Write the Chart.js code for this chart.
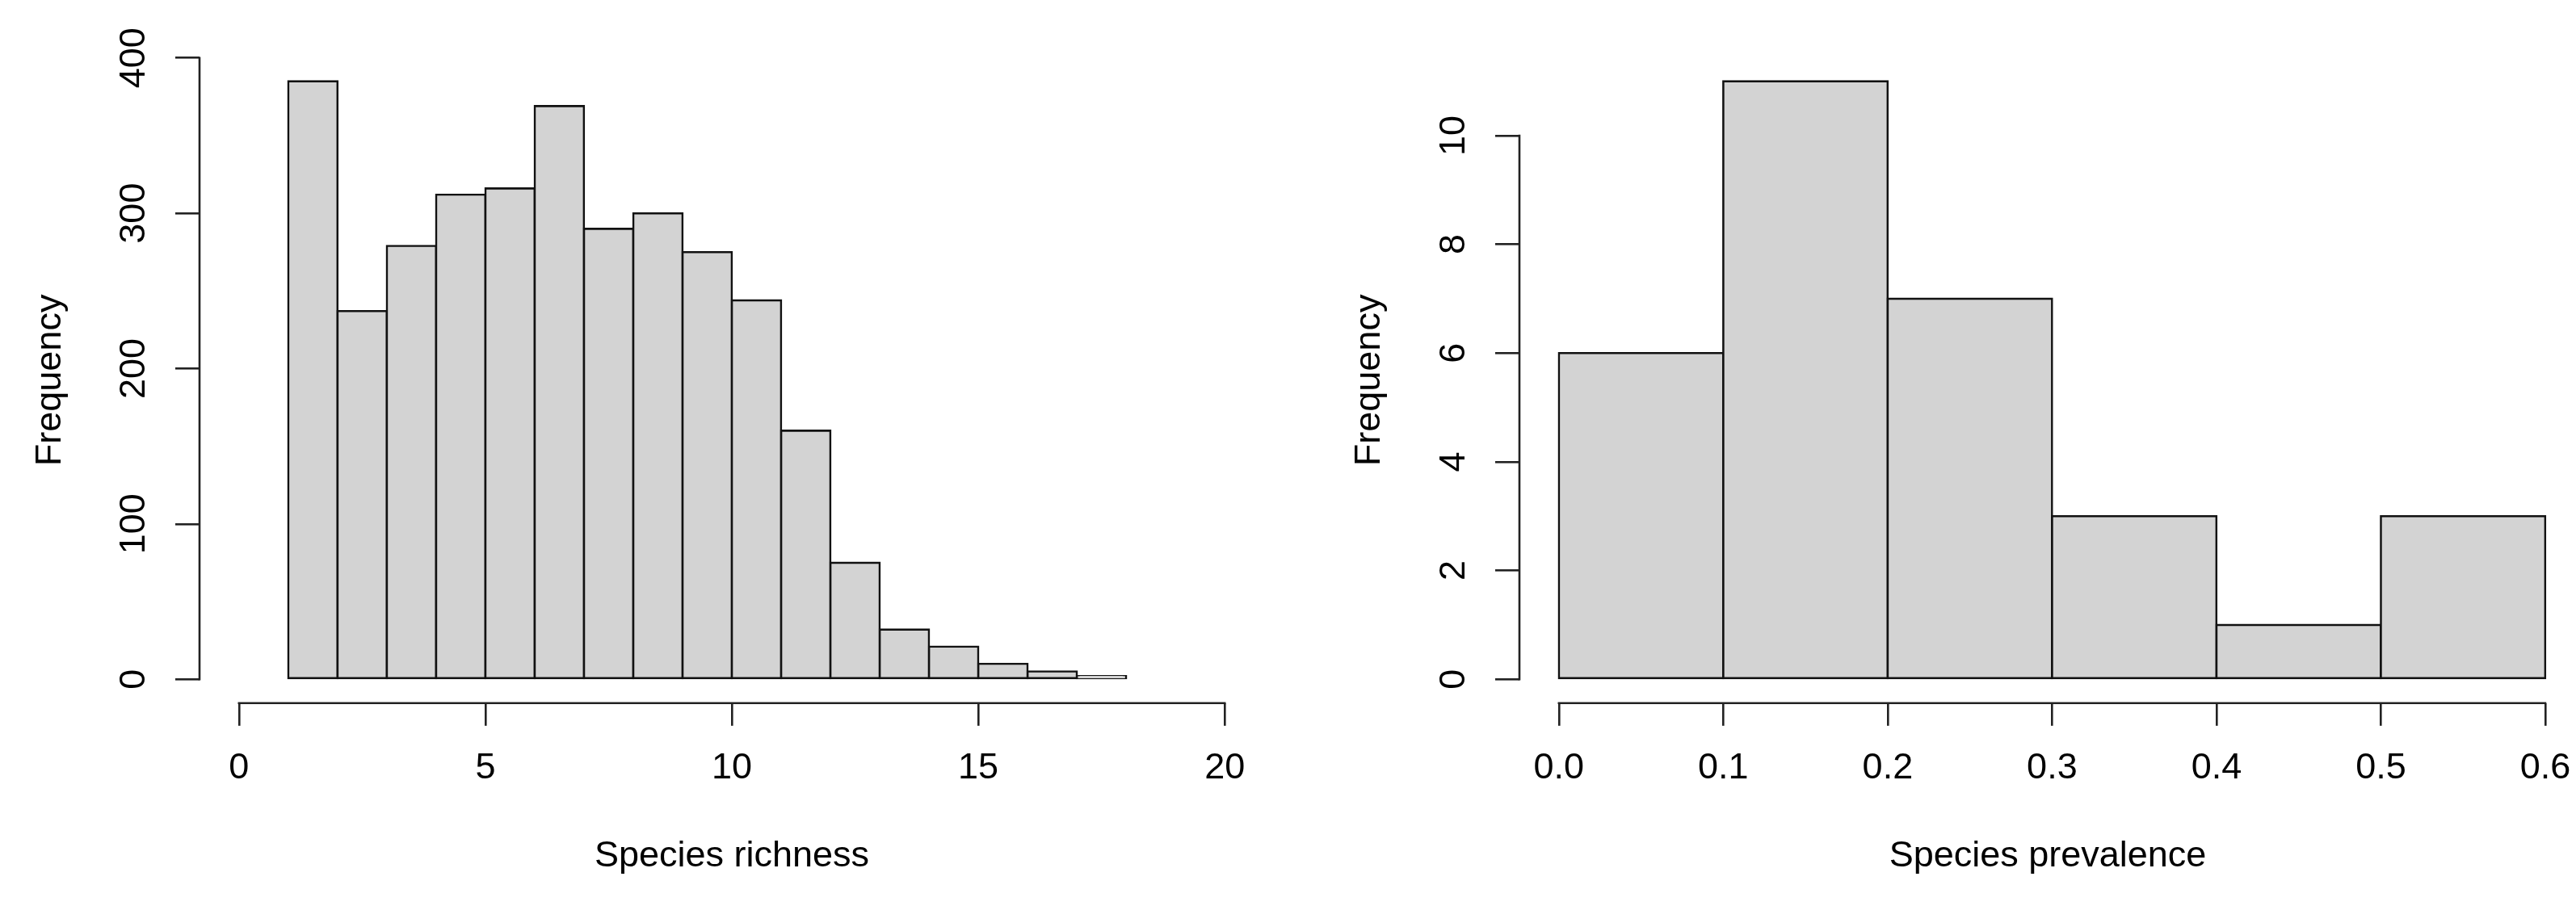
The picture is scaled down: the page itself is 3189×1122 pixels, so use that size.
<!DOCTYPE html>
<html>
<head>
<meta charset="utf-8">
<script src="https://cdn.jsdelivr.net/npm/chart.js@4.4.1/dist/chart.umd.min.js"></script>
<style>
  html, body { margin: 0; padding: 0; background: #fff; }
  #wrap { position: relative; width: 3189px; height: 1122px; overflow: hidden; }
  canvas { position: absolute; top: 0; }
  #left { left: 0; }
  #right { left: 1594px; }
</style>
</head>
<body>
<div id="wrap">
  <canvas id="left" width="1594" height="1122"></canvas>
  <canvas id="right" width="1595" height="1122"></canvas>
</div>
<script>
// species richness histogram
const richnessBreaks = [1, 2, 3, 4, 5, 6, 7, 8, 9, 10, 11, 12, 13, 14, 15, 16, 17, 18];
const richnessCounts = [385, 237, 279, 312, 316, 369, 290, 300, 275, 244, 160, 75, 32, 21, 10, 5, 2];
const richnessXTicks = [0, 5, 10, 15, 20];
const richnessXLabels = ['0', '5', '10', '15', '20'];
const richnessYTicks = [0, 100, 200, 300, 400];
const richnessYLabels = ['0', '100', '200', '300', '400'];

// species prevalence histogram
const prevalenceBreaks = [0, 0.1, 0.2, 0.3, 0.4, 0.5, 0.6];
const prevalenceCounts = [6, 11, 7, 3, 1, 3];
const prevalenceXTicks = [0, 0.1, 0.2, 0.3, 0.4, 0.5, 0.6];
const prevalenceXLabels = ['0.0', '0.1', '0.2', '0.3', '0.4', '0.5', '0.6'];
const prevalenceYTicks = [0, 2, 4, 6, 8, 10];
const prevalenceYLabels = ['0', '2', '4', '6', '8', '10'];

const FONT = '"Liberation Sans", Arial, sans-serif';
Chart.defaults.font.family = FONT;
Chart.defaults.color = '#000';

// R style axes: line only between first and last tick, rotated y labels
const rAxes = {
    id: 'rAxes',
    afterDraw(chart) {
        const {ctx, chartArea, scales: {x, y}} = chart;
        const xt = x.ticks, yt = y.ticks;
        ctx.save();
        ctx.strokeStyle = '#222';
        ctx.lineWidth = 2.6;
        ctx.beginPath();
        ctx.moveTo(x.getPixelForValue(xt[0].value) - 1.3, chartArea.bottom);
        ctx.lineTo(x.getPixelForValue(xt[xt.length - 1].value) + 1.3, chartArea.bottom);
        ctx.moveTo(chartArea.left, y.getPixelForValue(yt[0].value) + 1.3);
        ctx.lineTo(chartArea.left, y.getPixelForValue(yt[yt.length - 1].value) - 1.3);
        ctx.stroke();

        ctx.fillStyle = '#000';
        ctx.font = '45px ' + FONT;
        ctx.textAlign = 'center';
        ctx.textBaseline = 'middle';
        yt.forEach(t => {
            ctx.save();
            ctx.translate(chartArea.left - 80, y.getPixelForValue(t.value));
            ctx.rotate(-Math.PI / 2);
            ctx.fillText(t.label, 0, 0);
            ctx.restore();
        });
        ctx.restore();
    }
};

function histogram(canvasId, breaks, counts, xTicks, xLabels, yTicks, yLabels, xTitle, box) {
    const data = counts.map((c, i) => ({ x: (breaks[i] + breaks[i + 1]) / 2, y: c }));
    return new Chart(document.getElementById(canvasId), {
        type: 'bar',
        data: {
            datasets: [{
                data: data,
                backgroundColor: '#d3d3d3',
                borderColor: '#111',
                borderWidth: 2.6,
                inflateAmount: 1.3,
                borderSkipped: false,
                barPercentage: 1,
                categoryPercentage: 1
            }]
        },
        options: {
            responsive: false,
            animation: false,
            layout: { padding: box.padding },
            plugins: { legend: { display: false }, tooltip: { enabled: false } },
            scales: {
                x: {
                    type: 'linear',
                    min: box.xMin,
                    max: box.xMax,
                    bounds: 'data',
                    offset: false,
                    afterBuildTicks: s => { s.ticks = xTicks.map(v => ({ value: v })); },
                    grid: { drawOnChartArea: false, offset: false, tickLength: 28, lineWidth: 2.6, color: '#222' },
                    border: { display: false },
                    ticks: {
                        autoSkip: false, maxRotation: 0, minRotation: 0, padding: 0,
                        font: { size: 45, lineHeight: 2.36 },
                        callback: (v, i) => xLabels[i]
                    },
                    title: {
                        display: true, text: xTitle,
                        font: { size: 45, lineHeight: 1.2 },
                        padding: { top: 29, bottom: 0 }
                    }
                },
                y: {
                    type: 'linear',
                    min: box.yMin,
                    max: box.yMax,
                    bounds: 'data',
                    afterBuildTicks: s => { s.ticks = yTicks.map(v => ({ value: v })); },
                    grid: { drawOnChartArea: false, tickLength: 30, lineWidth: 2.6, color: '#222' },
                    border: { display: false },
                    ticks: { display: false, callback: (v, i) => yLabels[i] },
                    title: {
                        display: true, text: 'Frequency',
                        font: { size: 45, lineHeight: 1.2 },
                        padding: box.yTitlePad
                    }
                }
            }
        },
        plugins: [rAxes]
    });
}

histogram('left', richnessBreaks, richnessCounts, richnessXTicks, richnessXLabels,
    richnessYTicks, richnessYLabels, 'Species richness', {
        padding: { left: 0, top: 71, right: 29, bottom: 34 },
        yTitlePad: { top: 36, bottom: 127 },
        xMin: -0.8, xMax: 20.8, yMin: -15.4, yMax: 400.4
    });

histogram('right', prevalenceBreaks, prevalenceCounts, prevalenceXTicks, prevalenceXLabels,
    prevalenceYTicks, prevalenceYLabels, 'Species prevalence', {
        padding: { left: 0, top: 71, right: 0, bottom: 34 },
        yTitlePad: { top: 75, bottom: 128 },
        xMin: -0.024, xMax: 0.6187, yMin: -0.44, yMax: 11.44
    });
</script>
</body>
</html>
